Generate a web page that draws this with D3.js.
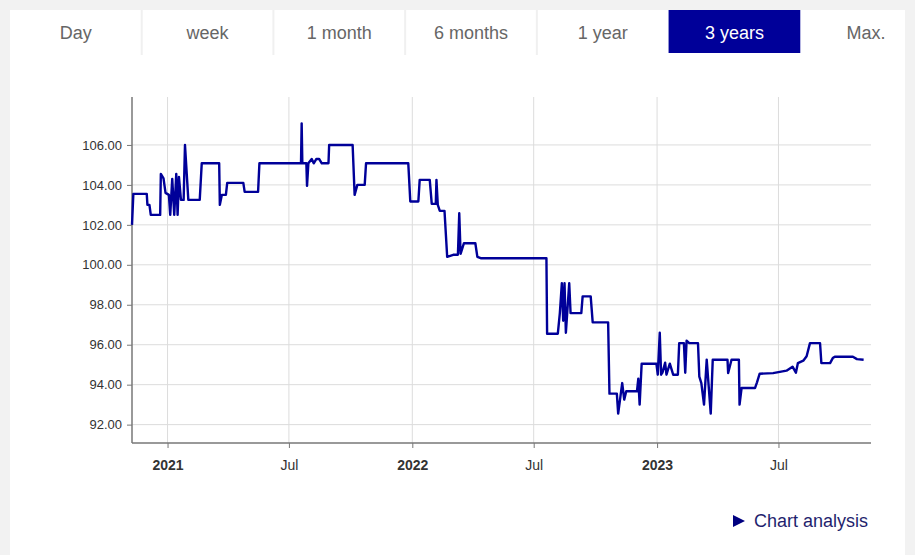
<!DOCTYPE html>
<html>
<head>
<meta charset="utf-8">
<script src="https://cdn.jsdelivr.net/npm/d3@7/dist/d3.min.js"></script>
<style>
  html, body { margin: 0; padding: 0; background: #f2f2f2; }
  svg { display: block; font-family: "Liberation Sans", Arial, sans-serif; }
</style>
</head>
<body>
<svg id="chart" width="915" height="555"></svg>
<script>
// ---- data ----
const tabs = ["Day", "week", "1 month", "6 months", "1 year", "3 years", "Max."];
const activeTab = "3 years";

const yTickValues = [92, 94, 96, 98, 100, 102, 104, 106];
const xTickDates = ["2021-01-01", "2021-07-01", "2022-01-01", "2022-07-01", "2023-01-01", "2023-07-01"];
const xTickLabels = ["2021", "Jul", "2022", "Jul", "2023", "Jul"];
const xTickBold = [true, false, true, false, true, false];

const dates = [
  "2020-11-09","2020-11-11","2020-12-01","2020-12-02","2020-12-05","2020-12-07","2020-12-21","2020-12-22",
  "2020-12-26","2020-12-29","2021-01-03","2021-01-05","2021-01-08","2021-01-11","2021-01-14","2021-01-16",
  "2021-01-18","2021-01-21","2021-01-25","2021-01-27","2021-02-01","2021-02-18","2021-02-21","2021-03-19",
  "2021-03-20","2021-03-23","2021-03-29","2021-03-31","2021-04-24","2021-04-26","2021-05-16","2021-05-18",
  "2021-07-19","2021-07-20","2021-07-21","2021-07-27","2021-07-28","2021-07-30","2021-08-04","2021-08-07",
  "2021-08-11","2021-08-15","2021-08-19","2021-08-29","2021-08-30","2021-10-04","2021-10-07","2021-10-11",
  "2021-10-22","2021-10-24","2021-12-26","2021-12-29","2022-01-10","2022-01-12","2022-01-27","2022-01-30",
  "2022-02-05","2022-02-06","2022-02-08","2022-02-11","2022-02-18","2022-02-22","2022-03-03","2022-03-10",
  "2022-03-12","2022-03-14","2022-03-19","2022-04-05","2022-04-08","2022-04-13","2022-07-20","2022-07-21",
  "2022-08-06","2022-08-09","2022-08-12","2022-08-14","2022-08-16","2022-08-18","2022-08-23","2022-08-25",
  "2022-08-28","2022-09-10","2022-09-12","2022-09-24","2022-09-27","2022-10-20","2022-10-22","2022-11-02",
  "2022-11-04","2022-11-10","2022-11-13","2022-11-16","2022-12-02","2022-12-04","2022-12-06","2022-12-09",
  "2022-12-31","2023-01-02","2023-01-05","2023-01-07","2023-01-09","2023-01-13","2023-01-15","2023-01-20",
  "2023-01-25","2023-02-01","2023-02-03","2023-02-10","2023-02-12","2023-02-14","2023-02-18","2023-03-03",
  "2023-03-05","2023-03-08","2023-03-12","2023-03-16","2023-03-22","2023-03-25","2023-04-16","2023-04-17",
  "2023-04-22","2023-05-03","2023-05-04","2023-05-07","2023-05-27","2023-05-30","2023-06-03","2023-06-23",
  "2023-07-13","2023-07-22","2023-07-27","2023-07-30","2023-08-07","2023-08-12","2023-08-17","2023-09-01",
  "2023-09-03","2023-09-16","2023-09-20","2023-09-23","2023-10-20","2023-10-26","2023-11-05"
];
const values = [
  102.0,103.55,103.55,103.0,103.0,102.5,102.5,104.55,
  104.33,103.6,103.5,102.5,104.3,102.5,104.55,102.5,
  104.4,103.25,103.25,106.0,103.25,103.25,105.08,105.08,
  103.0,103.5,103.5,104.1,104.1,103.65,103.65,105.08,
  105.08,107.08,105.08,105.08,103.95,105.08,105.3,105.08,
  105.3,105.3,105.08,105.08,106.0,106.0,103.5,104.0,
  104.0,105.08,105.08,103.17,103.17,104.25,104.25,103.05,
  103.05,104.25,103.0,102.7,102.7,100.4,100.5,100.5,
  102.58,100.55,101.08,101.08,100.4,100.33,100.33,96.55,
  96.55,97.58,99.08,97.2,99.08,96.6,99.08,97.58,
  97.58,97.58,98.42,98.42,97.12,97.12,93.55,93.55,
  92.55,94.08,93.25,93.67,93.67,94.3,93.0,95.05,
  95.05,94.5,96.6,94.5,94.6,95.1,94.5,95.05,
  94.5,94.5,96.08,96.08,94.6,96.2,96.08,96.08,
  94.4,94.08,93.0,95.25,92.55,95.25,95.25,94.58,
  95.25,95.25,93.0,93.83,93.83,94.12,94.55,94.58,
  94.7,94.9,94.6,95.08,95.2,95.42,96.08,96.08,
  95.08,95.08,95.33,95.4,95.4,95.28,95.25
];
const xDomain = ["2020-11-09", "2023-11-16"];
const yDomain = [91.08, 108.4];
const linkText = "Chart analysis";

// ---- drawing ----
const parse = d3.timeParse("%Y-%m-%d");
const svg = d3.select("#chart");

// panel
svg.append("rect").attr("x", 10).attr("y", 10).attr("width", 895).attr("height", 545).attr("fill", "#ffffff");

// tabs
const tabScale = d3.scaleBand().domain(tabs).range([10, 932]).paddingInner(0);
const tabG = svg.append("g");
tabs.forEach((t, i) => {
  const x0 = tabScale(t), w = tabScale.bandwidth();
  const isActive = t === activeTab;
  if (isActive) {
    tabG.append("rect").attr("x", x0).attr("y", 10).attr("width", w).attr("height", 43).attr("fill", "#000099");
  }
  if (i > 0 && !isActive && tabs[i - 1] !== activeTab) {
    tabG.append("rect").attr("x", x0 - 1).attr("y", 10).attr("width", 2).attr("height", 45).attr("fill", "#f0f0f0");
  }
  tabG.append("text")
    .attr("x", Math.min(x0 + w / 2, 866))
    .attr("y", 39)
    .attr("text-anchor", "middle")
    .attr("font-size", 18)
    .attr("fill", isActive ? "#ffffff" : "#666666")
    .text(t);
});
svg.append("rect").attr("x", 905).attr("y", 0).attr("width", 10).attr("height", 555).attr("fill", "#f2f2f2");

// scales
const x = d3.scaleTime().domain(xDomain.map(parse)).range([132, 871]);
const y = d3.scaleLinear().domain(yDomain).range([443, 97]);

// grid
const grid = svg.append("g");
grid.selectAll("line.h").data(yTickValues).join("line")
  .attr("x1", 132).attr("x2", 871)
  .attr("y1", d => y(d)).attr("y2", d => y(d))
  .attr("stroke", "#dcdcdc").attr("stroke-width", 1);
grid.selectAll("line.v").data(xTickDates).join("line")
  .attr("x1", d => x(parse(d))).attr("x2", d => x(parse(d)))
  .attr("y1", 97).attr("y2", 443)
  .attr("stroke", "#dcdcdc").attr("stroke-width", 1);

// axes
const yAxis = d3.axisLeft(y).tickValues(yTickValues).tickFormat(d3.format(".2f")).tickSize(5).tickPadding(5);
const yG = svg.append("g").attr("transform", "translate(132,0)").call(yAxis);
yG.select(".domain").attr("stroke", "#777").attr("stroke-width", 1.5).attr("d", "M0,97V443");
yG.selectAll(".tick line").attr("stroke", "#777");
yG.selectAll(".tick text").attr("font-size", 13).attr("fill", "#333").attr("font-family", "Liberation Sans, Arial, sans-serif");

const xAxis = d3.axisBottom(x).tickValues(xTickDates.map(parse))
  .tickFormat((d, i) => xTickLabels[i]).tickSize(5).tickPadding(12);
const xG = svg.append("g").attr("transform", "translate(0,443)").call(xAxis);
xG.select(".domain").attr("stroke", "#777").attr("stroke-width", 1.5).attr("d", "M132,0H871");
xG.selectAll(".tick line").attr("stroke", "#777");
xG.selectAll(".tick text")
  .attr("font-size", 14).attr("fill", "#333")
  .attr("font-family", "Liberation Sans, Arial, sans-serif")
  .attr("font-weight", (d, i) => xTickBold[i] ? "bold" : "normal");

// line
const pts = dates.map((d, i) => ({ date: parse(d), value: values[i] }));
const line = d3.line().x(d => x(d.date)).y(d => y(d.value));
svg.append("path").datum(pts)
  .attr("fill", "none")
  .attr("stroke", "#000099")
  .attr("stroke-width", 2.4)
  .attr("stroke-linejoin", "round")
  .attr("d", line);

// link
const link = svg.append("g");
link.append("path").attr("d", "M733,515L745,521L733,527Z").attr("fill", "#000080");
link.append("text").attr("x", 754).attr("y", 527).attr("font-size", 18).attr("fill", "#1f1f6e").text(linkText);
</script>
</body>
</html>
